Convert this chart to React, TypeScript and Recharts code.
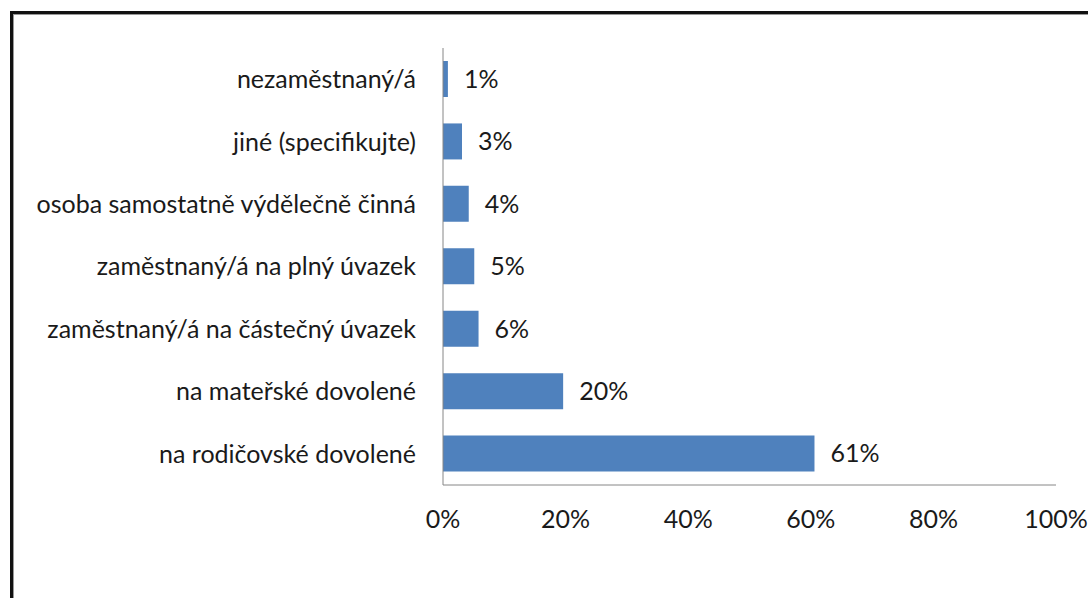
import { Bar, BarChart, LabelList, XAxis, YAxis } from "recharts";

const categories = [
  "nezaměstnaný/á",
  "jiné (specifikujte)",
  "osoba samostatně výdělečně činná",
  "zaměstnaný/á na plný úvazek",
  "zaměstnaný/á na částečný úvazek",
  "na mateřské dovolené",
  "na rodičovské dovolené",
];
const shares = [0.8, 3.1, 4.2, 5.1, 5.8, 19.6, 60.6];
const xTicks = [0, 20, 40, 60, 80, 100];

const data = categories.map((name, i) => ({ name, share: shares[i] }));

const font = { fontFamily: "Lato, 'Noto Sans', sans-serif", fontSize: 25, fill: "#1a1a1a" };

export default function App() {
  return (
    <div
      style={{
        position: "absolute",
        left: 0,
        top: 0,
        width: 1088,
        height: 598,
        background: "#fff",
        overflow: "hidden",
      }}
    >
      <div
        style={{
          position: "absolute",
          left: 10,
          top: 11,
          width: 1200,
          height: 700,
          borderLeft: "3px solid #111",
          borderTop: "3px solid #111",
          boxShadow: "inset 1px 1px 0 #999",
        }}
      />
      <div style={{ position: "absolute", left: 0, top: 0 }}>
        <BarChart
          width={1088}
          height={598}
          data={data}
          layout="vertical"
          margin={{ top: 48, right: 32, bottom: 73, left: 0 }}
          barSize={36}
        >
          <XAxis
            type="number"
            domain={[0, 100]}
            ticks={xTicks}
            tickFormatter={(v) => `${v}%`}
            tickLine={false}
            tickSize={0}
            tickMargin={25}
            axisLine={{ stroke: "#868686" }}
            height={40}
            tick={font}
            interval={0}
          />
          <YAxis
            type="category"
            dataKey="name"
            width={443}
            tickLine={false}
            tickSize={0}
            tickMargin={27}
            axisLine={{ stroke: "#868686" }}
            tick={font}
            interval={0}
          />
          <Bar dataKey="share" fill="#4f81bd" isAnimationActive={false}>
            <LabelList
              dataKey="share"
              position="right"
              offset={16}
              formatter={(v) => `${Math.round(Number(v))}%`}
              style={font}
            />
          </Bar>
        </BarChart>
      </div>
    </div>
  );
}
